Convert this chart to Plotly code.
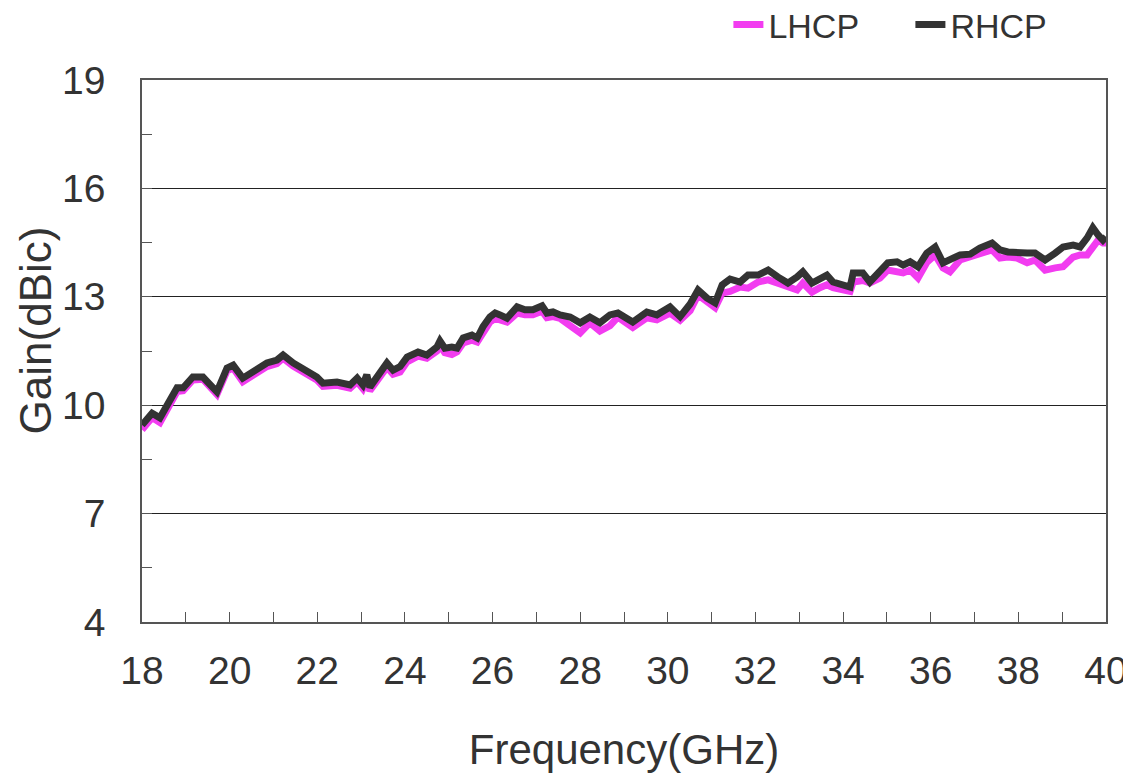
import plotly.graph_objects as go

freq = [18.00, 18.23, 18.41, 18.64, 18.80, 18.94, 19.16, 19.39, 19.71, 19.94,
        20.08, 20.30, 20.53, 20.85, 21.08, 21.22, 21.45, 21.77, 21.99, 22.13,
        22.45, 22.75, 22.91, 23.04, 23.13, 23.20, 23.43, 23.59, 23.73, 23.89,
        24.05, 24.30, 24.50, 24.73, 24.80, 24.91, 25.07, 25.19, 25.33, 25.53,
        25.65, 25.78, 25.94, 26.06, 26.17, 26.33, 26.56, 26.74, 26.92, 27.13,
        27.24, 27.38, 27.54, 27.77, 28.00, 28.22, 28.45, 28.68, 28.86, 29.20,
        29.52, 29.75, 30.05, 30.28, 30.51, 30.69, 30.89, 31.08, 31.24, 31.42,
        31.65, 31.83, 32.06, 32.29, 32.51, 32.74, 32.95, 33.08, 33.29, 33.47,
        33.63, 33.77, 34.00, 34.16, 34.23, 34.45, 34.61, 34.84, 35.02, 35.23,
        35.37, 35.53, 35.71, 35.91, 36.10, 36.28, 36.44, 36.67, 36.90, 37.12,
        37.40, 37.58, 37.76, 37.97, 38.20, 38.38, 38.61, 38.84, 39.02, 39.25,
        39.41, 39.57, 39.70, 39.82, 39.93, 40.00]

rhcp = [9.45, 9.78, 9.65, 10.14, 10.48, 10.48, 10.78, 10.78, 10.37, 11.03,
        11.11, 10.75, 10.92, 11.17, 11.25, 11.39, 11.17, 10.97, 10.78, 10.61,
        10.64, 10.56, 10.75, 10.56, 10.84, 10.50, 10.89, 11.17, 10.97, 11.07,
        11.33, 11.47, 11.39, 11.61, 11.78, 11.58, 11.61, 11.58, 11.86, 11.94,
        11.86, 12.17, 12.44, 12.55, 12.50, 12.41, 12.72, 12.64, 12.64, 12.75,
        12.55, 12.58, 12.50, 12.44, 12.28, 12.44, 12.28, 12.50, 12.55, 12.30,
        12.58, 12.50, 12.72, 12.45, 12.80, 13.19, 12.97, 12.83, 13.33, 13.49,
        13.41, 13.60, 13.60, 13.74, 13.55, 13.38, 13.55, 13.69, 13.38, 13.47,
        13.60, 13.41, 13.33, 13.27, 13.66, 13.66, 13.41, 13.69, 13.94, 13.97,
        13.88, 13.97, 13.83, 14.21, 14.38, 13.94, 14.02, 14.16, 14.18, 14.35,
        14.49, 14.30, 14.24, 14.21, 14.21, 14.21, 14.02, 14.21, 14.38, 14.43,
        14.38, 14.63, 14.91, 14.71, 14.57, 14.66]

lhcp = [9.32, 9.66, 9.52, 10.02, 10.38, 10.40, 10.70, 10.72, 10.30, 10.95,
        11.03, 10.65, 10.83, 11.07, 11.15, 11.30, 11.08, 10.88, 10.70, 10.52,
        10.55, 10.47, 10.65, 10.46, 10.72, 10.40, 10.78, 11.05, 10.86, 10.92,
        11.20, 11.36, 11.30, 11.50, 11.65, 11.45, 11.40, 11.48, 11.72, 11.80,
        11.75, 12.02, 12.30, 12.40, 12.36, 12.30, 12.55, 12.50, 12.50, 12.60,
        12.42, 12.45, 12.40, 12.20, 12.00, 12.28, 12.05, 12.20, 12.44, 12.15,
        12.42, 12.36, 12.55, 12.35, 12.62, 13.05, 12.85, 12.70, 13.10, 13.15,
        13.27, 13.24, 13.41, 13.47, 13.38, 13.27, 13.19, 13.38, 13.13, 13.25,
        13.33, 13.25, 13.19, 13.15, 13.41, 13.45, 13.38, 13.52, 13.74, 13.70,
        13.66, 13.74, 13.52, 13.95, 14.16, 13.80, 13.69, 14.02, 14.10, 14.21,
        14.30, 14.07, 14.10, 14.07, 13.94, 14.02, 13.74, 13.80, 13.83, 14.10,
        14.16, 14.16, 14.35, 14.57, 14.49, 14.49]

x_ticks = [18, 20, 22, 24, 26, 28, 30, 32, 34, 36, 38, 40]
y_ticks = [4, 7, 10, 13, 16, 19]

FONT = "Liberation Sans, Arial, sans-serif"
AX = "#555555"

fig = go.Figure()
fig.add_trace(go.Scatter(x=freq, y=lhcp, mode="lines", name="LHCP",
                         line=dict(color="#f23cf0", width=7)))
fig.add_trace(go.Scatter(x=freq, y=rhcp, mode="lines", name="RHCP",
                         line=dict(color="#333333", width=7)))

fig.update_layout(
    width=1123, height=772,
    paper_bgcolor="white", plot_bgcolor="white",
    margin=dict(l=134, r=25, t=72, b=158, autoexpand=False),
    font=dict(family=FONT, size=39, color="#333333"),
    showlegend=True,
    legend=dict(orientation="h", xref="container", x=0.6415, xanchor="left",
                yref="container", y=0.978, yanchor="middle",
                font=dict(size=34, color="#333333"),
                bgcolor="rgba(0,0,0,0)", itemwidth=30, entrywidth=137,
                tracegroupgap=0),
    xaxis=dict(range=[18, 40], tickvals=x_ticks, ticks="inside", ticklen=10,
               tickcolor=AX, showline=True, linecolor=AX, linewidth=1.5,
               mirror=True, showgrid=False, zeroline=False, automargin=False,
               ticklabelstandoff=13,
               minor=dict(dtick=1, ticks="inside", ticklen=10, tickcolor=AX),
               title=dict(text="Frequency(GHz)", standoff=44,
                          font=dict(size=42))),
    yaxis=dict(range=[4, 19], tickvals=y_ticks, ticks="inside", ticklen=10,
               tickcolor=AX, showline=True, linecolor=AX, linewidth=1.5,
               mirror=True, showgrid=True, gridcolor="#222222", gridwidth=1,
               zeroline=False, automargin=False, ticklabelstandoff=27,
               minor=dict(tickvals=[5.5, 8.5, 11.5, 14.5, 17.5], ticks="inside",
                          ticklen=10, tickcolor=AX, showgrid=False)),
    annotations=[dict(text="Gain(dBic)", textangle=-90, showarrow=False,
                      xref="paper", yref="paper", x=-0.111, y=0.538,
                      xanchor="center", yanchor="middle",
                      font=dict(size=44, color="#333333"))],
)

fig.write_html("out.html")
